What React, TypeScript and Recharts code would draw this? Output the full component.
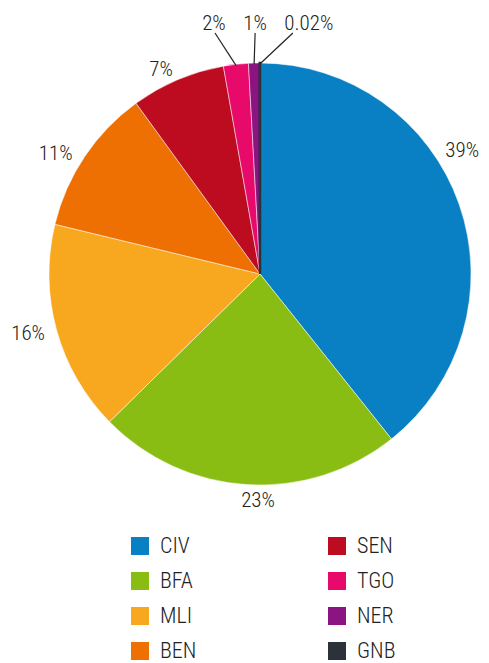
import React from "react";
import { PieChart, Pie, Cell, Legend } from "recharts";

const countries = ["CIV", "BFA", "MLI", "BEN", "SEN", "TGO", "NER", "GNB"];
const shares = [39.2, 23.3, 16.1, 11.2, 7.2, 1.9, 0.85, 0.02];
const shareLabels = ["39%", "23%", "16%", "11%", "7%", "2%", "1%", "0.02%"];
const colors = ["#0A80C4", "#8ABD14", "#F8A81F", "#EE6F02", "#BD0C1F", "#E80A6A", "#8C1482", "#2B323A"];

const FONT = "'Roboto Condensed', 'Liberation Sans Narrow', Roboto, sans-serif";
const RAD = Math.PI / 180;

const data = countries.map((name, i) => ({ name, value: shares[i] }));

// small slices get their label above the pie with a leader line
const leaderDx: Record<number, number> = { 5: -22, 6: 1, 7: 49 };
const leaderEndDx: Record<number, number> = { 5: 1, 6: 0, 7: -16 };

function renderLabel(props: any) {
  const { cx, cy, midAngle, outerRadius, index } = props;
  const text = shareLabels[index];

  if (leaderDx[index] !== undefined) {
    const a = midAngle * RAD;
    const ex = cx + (outerRadius - 1) * Math.cos(a);
    const ey = cy - (outerRadius - 1) * Math.sin(a);
    const tx = ex + leaderDx[index];
    const ty = cy - outerRadius - 40;
    return (
      <g key={`lbl-${index}`}>
        <line x1={ex} y1={ey} x2={tx + leaderEndDx[index]} y2={ty + 10} stroke="#222" strokeWidth={1.2} />
        <text x={tx} y={ty} textAnchor="middle" dominantBaseline="central" fill="#222" fontSize={21} fontWeight={300} fontFamily={FONT}>
          {text}
        </text>
      </g>
    );
  }

  const shift = index === 0 ? 14.5 : index === 1 ? 3 : index === 3 ? 1 : 0;
  const a = (midAngle + shift) * RAD;
  const c = Math.cos(a);
  const anchor = c > 0.2 ? "start" : c < -0.2 ? "end" : "middle";
  const r = outerRadius + (anchor === "middle" ? 15 : 12);
  const x = cx + r * c;
  const y = cy - r * Math.sin(a);
  return (
    <text key={`lbl-${index}`} x={x} y={y} textAnchor={anchor} dominantBaseline="central" fill="#222" fontSize={21} fontWeight={300} fontFamily={FONT}>
      {text}
    </text>
  );
}

function LegendGrid() {
  return (
    <div style={{ position: "relative", width: 489, height: 130, fontFamily: FONT }}>
      {countries.map((name, i) => {
        const col = Math.floor(i / 4);
        const row = i % 4;
        return (
          <div
            key={name}
            style={{
              position: "absolute",
              left: col === 0 ? 131 : 328,
              top: row * 35,
              display: "flex",
              alignItems: "center",
              height: 18,
            }}
          >
            <span style={{ width: 18, height: 18, background: colors[i], display: "inline-block" }} />
            <span style={{ marginLeft: 11, fontSize: 22, fontWeight: 300, color: "#222", lineHeight: "18px" }}>{name}</span>
          </div>
        );
      })}
    </div>
  );
}

export default function App() {
  return (
    <div style={{ position: "absolute", left: 0, top: 0, width: 489, height: 663, background: "#fff" }}>
      <PieChart width={489} height={663} margin={{ top: 0, right: 0, bottom: 0, left: 0 }}>
        <Pie
          data={data}
          dataKey="value"
          nameKey="name"
          cx={260}
          cy={274}
          outerRadius={211}
          startAngle={90}
          endAngle={-270}
          label={renderLabel}
          labelLine={false}
          isAnimationActive={false}
        >
          {data.map((d, i) => (
            <Cell
              key={d.name}
              fill={colors[i]}
              stroke={i === data.length - 1 ? colors[i] : "#fff"}
              strokeWidth={i === data.length - 1 ? 2.5 : 0.5}
            />
          ))}
        </Pie>
        <Legend
          content={() => <LegendGrid />}
          wrapperStyle={{ left: 0, top: 537, width: 489, height: 130 }}
        />
      </PieChart>
    </div>
  );
}
